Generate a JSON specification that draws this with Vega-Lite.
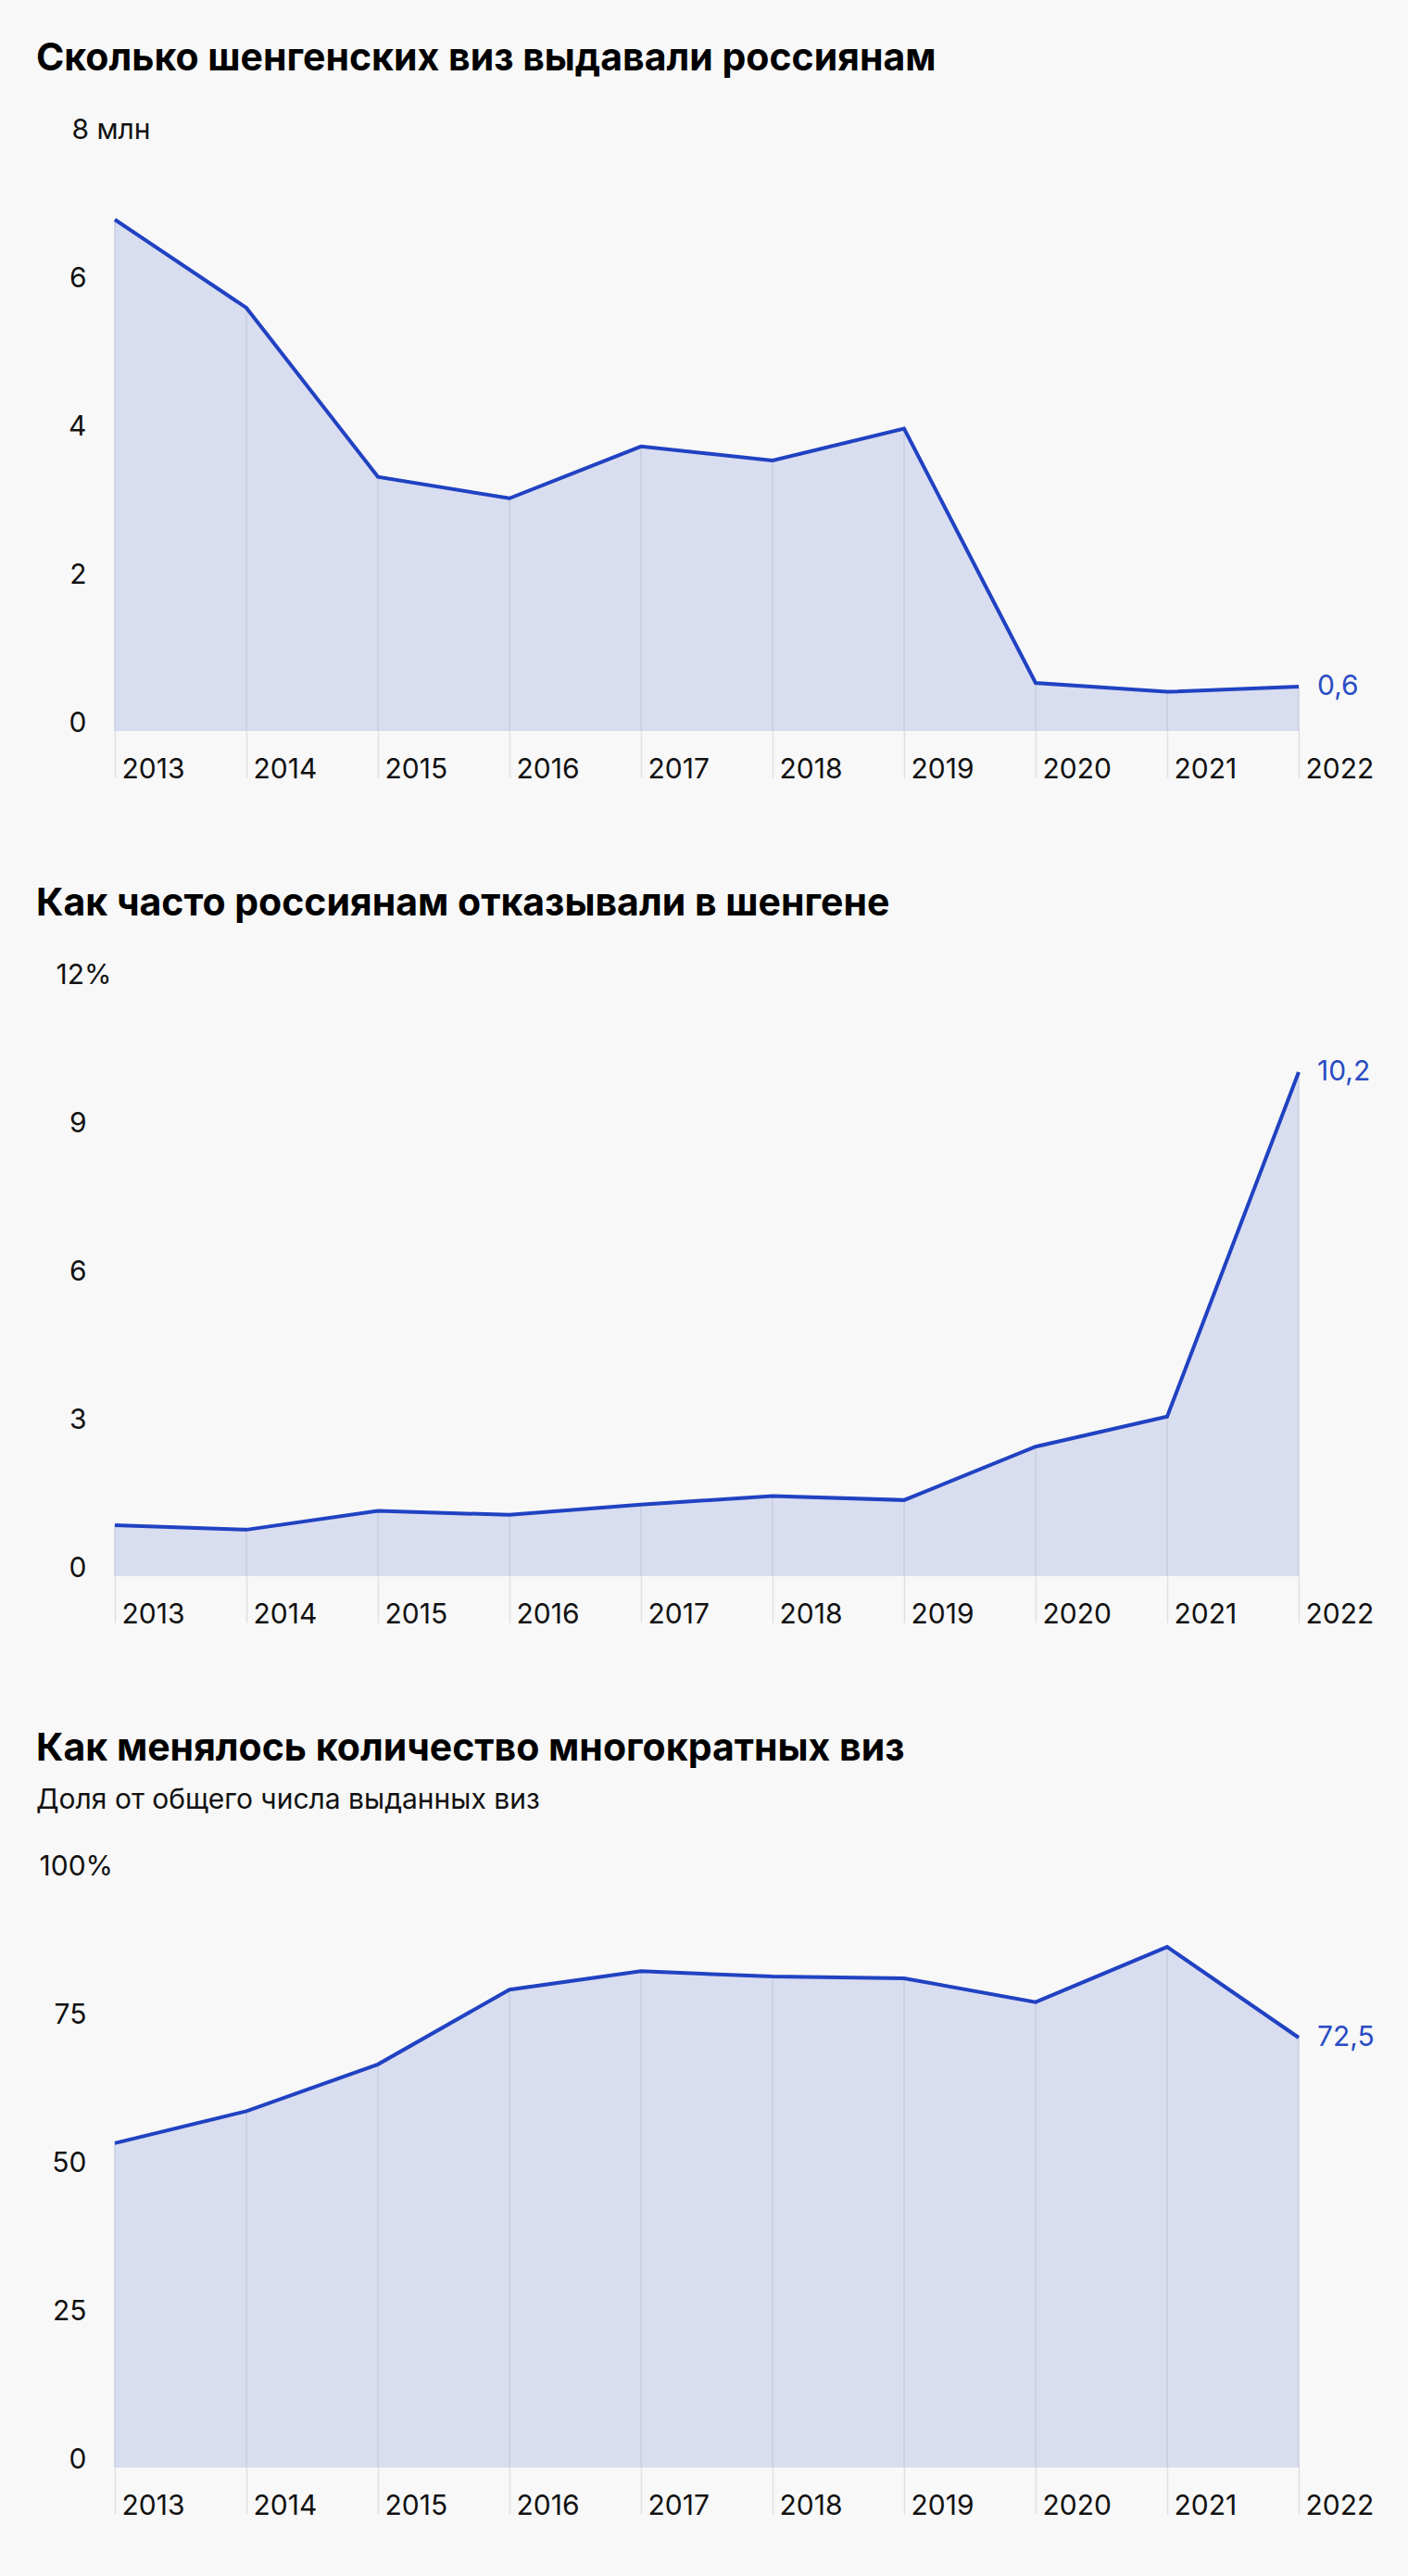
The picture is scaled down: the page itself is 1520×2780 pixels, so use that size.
{
  "$schema": "https://vega.github.io/schema/vega-lite/v6.json",
  "background": "#f8f8f8",
  "padding": {"left": 39, "top": 43, "right": 38, "bottom": 66},
  "spacing": 110,
  "config": {
    "locale": {"number": {"decimal": ",", "thousands": " ", "grouping": [3], "currency": ["", ""]}},
    "view": {"stroke": null},
    "font": "Inter",
    "title": {"font": "Inter", "fontSize": 41, "fontWeight": 700, "color": "#000000", "anchor": "start", "frame": "group", "dx": -85, "offset": 40, "subtitleFont": "Inter", "subtitleFontSize": 30, "subtitleColor": "#111111", "subtitlePadding": 19},
    "axis": {"labelFont": "Inter", "labelFontSize": 30, "labelColor": "#111111", "domain": false, "grid": false, "title": null}
  },
  "datasets": {
    "issued": [
      {"year": 2013, "value": 6.9},
      {"year": 2014, "value": 5.71},
      {"year": 2015, "value": 3.43},
      {"year": 2016, "value": 3.14},
      {"year": 2017, "value": 3.84},
      {"year": 2018, "value": 3.65},
      {"year": 2019, "value": 4.08},
      {"year": 2020, "value": 0.65},
      {"year": 2021, "value": 0.53},
      {"year": 2022, "value": 0.6}
    ],
    "refusals": [
      {"year": 2013, "value": 1.03},
      {"year": 2014, "value": 0.94},
      {"year": 2015, "value": 1.32},
      {"year": 2016, "value": 1.24},
      {"year": 2017, "value": 1.45},
      {"year": 2018, "value": 1.62},
      {"year": 2019, "value": 1.54},
      {"year": 2020, "value": 2.62},
      {"year": 2021, "value": 3.23},
      {"year": 2022, "value": 10.2}
    ],
    "multi": [
      {"year": 2013, "value": 54.7},
      {"year": 2014, "value": 60.1},
      {"year": 2015, "value": 68.0},
      {"year": 2016, "value": 80.6},
      {"year": 2017, "value": 83.7},
      {"year": 2018, "value": 82.8},
      {"year": 2019, "value": 82.5},
      {"year": 2020, "value": 78.5},
      {"year": 2021, "value": 87.8},
      {"year": 2022, "value": 72.5}
    ]
  },
  "vconcat": [
    {
      "title": {"text": "Сколько шенгенских виз выдавали россиянам"},
      "width": 1278,
      "height": 640,
      "data": {"name": "issued"},
      "encoding": {
        "x": {"field": "year", "type": "quantitative", "scale": {"domain": [2013, 2022], "nice": false, "zero": false},
          "axis": {"values": [2013, 2014, 2015, 2016, 2017, 2018, 2019, 2020, 2021, 2022], "format": "d", "ticks": true, "tickSize": 50, "tickColor": "#e0e0e0", "tickWidth": 1.5, "labelAlign": "left", "labelBaseline": "alphabetic", "labelPadding": 0, "labelOffset": 7, "labelFlush": false, "labelOverlap": false}},
        "y": {"field": "value", "type": "quantitative", "scale": {"domain": [0, 8], "nice": false},
          "axis": {"values": [0, 2, 4, 6, 8], "ticks": false, "labelBaseline": "alphabetic", "labelFlush": false,
            "labelExpr": "datum.value == 8 ? '8 млн' : datum.label",
            "labelAlign": {"condition": {"test": "datum.value == 8", "value": "left"}, "value": "right"},
            "labelPadding": {"condition": {"test": "datum.value == 8", "value": 47}, "value": 31}}}
      },
      "layer": [
        {"mark": {"type": "area", "color": "#d9ddf0", "opacity": 1}},
        {"mark": {"type": "rule", "color": "#c8cce0", "strokeWidth": 1.5}, "encoding": {"y": {"datum": 0, "type": "quantitative"}, "y2": {"field": "value"}}},
        {"mark": {"type": "line", "color": "#2042c2", "strokeWidth": 4}},
        {"transform": [{"filter": "datum.year == 2022"}], "mark": {"type": "text", "align": "left", "baseline": "middle", "dx": 20, "fontSize": 30, "font": "Inter", "color": "#2a4cc4"}, "encoding": {"text": {"field": "value", "type": "quantitative", "format": ".1f"}}}
      ]
    },
    {
      "title": {"text": "Как часто россиянам отказывали в шенгене"},
      "width": 1278,
      "height": 640,
      "data": {"name": "refusals"},
      "encoding": {
        "x": {"field": "year", "type": "quantitative", "scale": {"domain": [2013, 2022], "nice": false, "zero": false},
          "axis": {"values": [2013, 2014, 2015, 2016, 2017, 2018, 2019, 2020, 2021, 2022], "format": "d", "ticks": true, "tickSize": 50, "tickColor": "#e0e0e0", "tickWidth": 1.5, "labelAlign": "left", "labelBaseline": "alphabetic", "labelPadding": 0, "labelOffset": 7, "labelFlush": false, "labelOverlap": false}},
        "y": {"field": "value", "type": "quantitative", "scale": {"domain": [0, 12], "nice": false},
          "axis": {"values": [0, 3, 6, 9, 12], "ticks": false, "labelBaseline": "alphabetic", "labelFlush": false,
            "labelExpr": "datum.value == 12 ? '12%' : datum.label",
            "labelAlign": {"condition": {"test": "datum.value == 12", "value": "left"}, "value": "right"},
            "labelPadding": {"condition": {"test": "datum.value == 12", "value": 64}, "value": 31}}}
      },
      "layer": [
        {"mark": {"type": "area", "color": "#d9ddf0", "opacity": 1}},
        {"mark": {"type": "rule", "color": "#c8cce0", "strokeWidth": 1.5}, "encoding": {"y": {"datum": 0, "type": "quantitative"}, "y2": {"field": "value"}}},
        {"mark": {"type": "line", "color": "#2042c2", "strokeWidth": 4}},
        {"transform": [{"filter": "datum.year == 2022"}], "mark": {"type": "text", "align": "left", "baseline": "middle", "dx": 20, "fontSize": 30, "font": "Inter", "color": "#2a4cc4"}, "encoding": {"text": {"field": "value", "type": "quantitative", "format": ".1f"}}}
      ]
    },
    {
      "title": {"text": "Как менялось количество многократных виз", "subtitle": "Доля от общего числа выданных виз"},
      "width": 1278,
      "height": 640,
      "data": {"name": "multi"},
      "encoding": {
        "x": {"field": "year", "type": "quantitative", "scale": {"domain": [2013, 2022], "nice": false, "zero": false},
          "axis": {"values": [2013, 2014, 2015, 2016, 2017, 2018, 2019, 2020, 2021, 2022], "format": "d", "ticks": true, "tickSize": 50, "tickColor": "#e0e0e0", "tickWidth": 1.5, "labelAlign": "left", "labelBaseline": "alphabetic", "labelPadding": 0, "labelOffset": 7, "labelFlush": false, "labelOverlap": false}},
        "y": {"field": "value", "type": "quantitative", "scale": {"domain": [0, 100], "nice": false},
          "axis": {"values": [0, 25, 50, 75, 100], "ticks": false, "labelBaseline": "alphabetic", "labelFlush": false,
            "labelExpr": "datum.value == 100 ? '100%' : datum.label",
            "labelAlign": {"condition": {"test": "datum.value == 100", "value": "left"}, "value": "right"},
            "labelPadding": {"condition": {"test": "datum.value == 100", "value": 82}, "value": 31}}}
      },
      "layer": [
        {"mark": {"type": "area", "color": "#d9ddf0", "opacity": 1}},
        {"mark": {"type": "rule", "color": "#c8cce0", "strokeWidth": 1.5}, "encoding": {"y": {"datum": 0, "type": "quantitative"}, "y2": {"field": "value"}}},
        {"mark": {"type": "line", "color": "#2042c2", "strokeWidth": 4}},
        {"transform": [{"filter": "datum.year == 2022"}], "mark": {"type": "text", "align": "left", "baseline": "middle", "dx": 20, "fontSize": 30, "font": "Inter", "color": "#2a4cc4"}, "encoding": {"text": {"field": "value", "type": "quantitative", "format": ".1f"}}}
      ]
    }
  ]
}
